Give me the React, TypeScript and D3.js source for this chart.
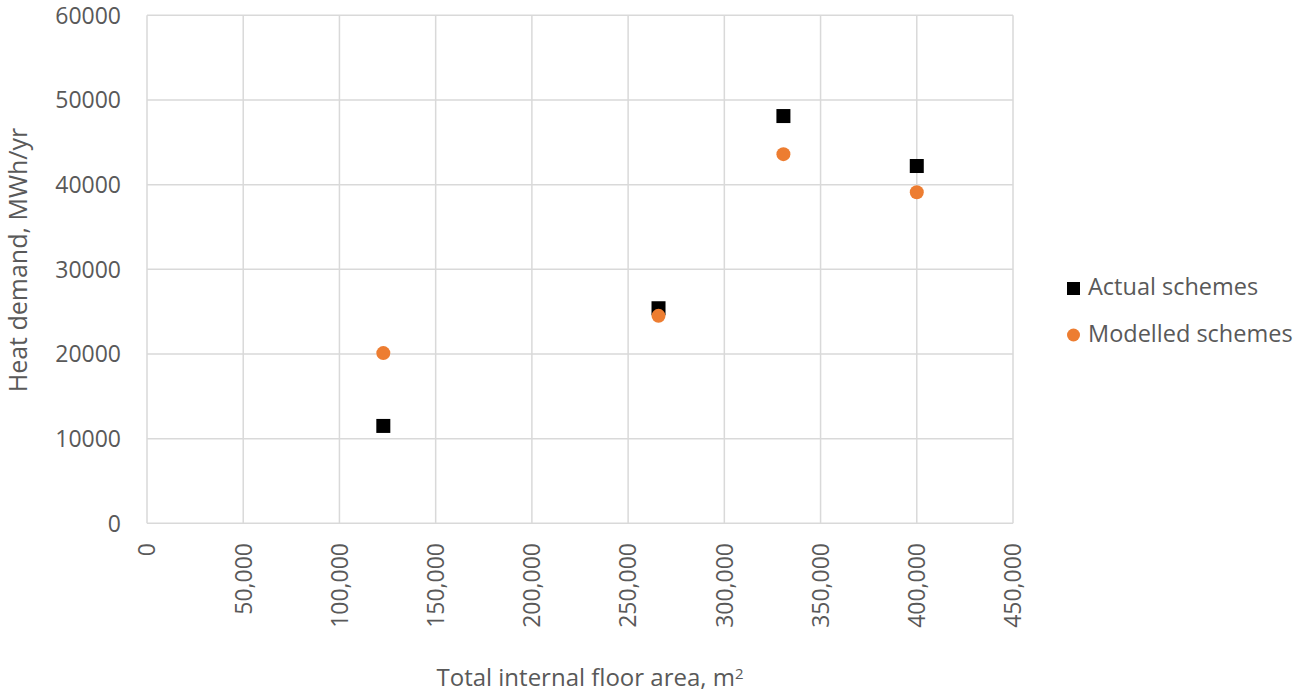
import React from "react";
import * as d3 from "d3";

const actualX = [122800, 265800, 330700, 400000];
const actualY = [11500, 25400, 48100, 42200];
const modelledX = [122800, 265800, 330700, 400000];
const modelledY = [20100, 24500, 43600, 39100];
const xTicks = [0, 50000, 100000, 150000, 200000, 250000, 300000, 350000, 400000, 450000];
const yTicks = [0, 10000, 20000, 30000, 40000, 50000, 60000];
const seriesNames = ["Actual schemes", "Modelled schemes"];
const xTitle = "Total internal floor area, m";
const yTitle = "Heat demand, MWh/yr";

const W = 1297;
const H = 693;
const FONT = "'Open Sans', sans-serif";
const TEXT = "#595959";
const GRID = "#d9d9d9";
const ORANGE = "#ed7d31";

export default function App() {
  const x = d3.scaleLinear().domain([0, 450000]).range([147, 1013]);
  const y = d3.scaleLinear().domain([0, 60000]).range([523.3, 15.3]);
  const fmt = d3.format(",");
  const sq = 14;
  return (
    <svg width={W} height={H} style={{ position: "absolute", left: 0, top: 0, background: "#fff" }}>
      <g>
        {xTicks.map((t) => (
          <line key={"gx" + t} x1={x(t)} x2={x(t)} y1={y(0)} y2={y(60000)} stroke={GRID} strokeWidth={1.5} />
        ))}
        {yTicks.map((t) => (
          <line key={"gy" + t} x1={x(0)} x2={x(450000)} y1={y(t)} y2={y(t)} stroke={GRID} strokeWidth={1.5} />
        ))}
      </g>
      <g fontFamily={FONT} fill={TEXT} fontSize={23}>
        {yTicks.map((t) => (
          <text key={"ly" + t} x={121} y={y(t)} dy="0.36em" textAnchor="end">
            {t}
          </text>
        ))}
        {xTicks.map((t) => (
          <text
            key={"lx" + t}
            transform={`translate(${x(t)},543) rotate(-90)`}
            textAnchor="end"
            dy="0.36em"
          >
            {t === 0 ? "0" : fmt(t)}
          </text>
        ))}
      </g>
      <g>
        {actualX.map((v, i) => (
          <rect key={"a" + i} x={x(v) - sq / 2} y={y(actualY[i]) - sq / 2} width={sq} height={sq} fill="#000" />
        ))}
        {modelledX.map((v, i) => (
          <circle key={"m" + i} cx={x(v)} cy={y(modelledY[i])} r={7} fill={ORANGE} />
        ))}
      </g>
      <g fontFamily={FONT} fill={TEXT}>
        <text transform={`translate(18,260) rotate(-90)`} textAnchor="middle" dy="0.36em" fontSize={25}>
          {yTitle}
        </text>
        <text x={590} y={677} textAnchor="middle" dy="0.36em" fontSize={24}>
          {xTitle}
          <tspan dy="-0.45em" fontSize={15}>2</tspan>
        </text>
      </g>
      <g fontFamily={FONT} fill={TEXT} fontSize={23.5}>
        <rect x={1067} y={282} width={13} height={13} fill="#000" />
        <text x={1088} y={287} dy="0.36em">{seriesNames[0]}</text>
        <circle cx={1073.5} cy={335} r={6.5} fill={ORANGE} />
        <text x={1088} y={334} dy="0.36em">{seriesNames[1]}</text>
      </g>
    </svg>
  );
}
